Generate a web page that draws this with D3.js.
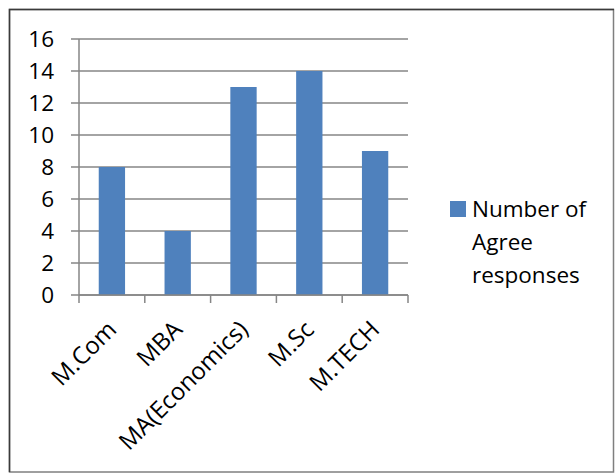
<!DOCTYPE html>
<html>
<head>
<meta charset="utf-8">
<script src="https://cdn.jsdelivr.net/npm/d3@7"></script>
<style>
  html, body { margin: 0; padding: 0; background: #fff; }
  svg { display: block; }
  text { font-family: "Open Sans", sans-serif; fill: #000; }
</style>
</head>
<body>
<svg id="chart" width="615" height="475"></svg>
<script>
// Agree responses by course
const categories = ["M.Com", "MBA", "MA(Economics)", "M.Sc", "M.TECH"];
const agreeCounts = [8, 4, 13, 14, 9];
const yTicks = [0, 2, 4, 6, 8, 10, 12, 14, 16];
const legendLines = ["Number of", "Agree", "responses"];

const svg = d3.select("#chart");
const barColor = "#4F81BD";
const gridColor = "#868686";
const fontSize = "22.5px";

// chart frame
svg.append("rect")
  .attr("x", 9.5).attr("y", 9.5)
  .attr("width", 604).attr("height", 462.5)
  .attr("fill", "#fff")
  .attr("stroke", "#7f7f7f").attr("stroke-width", 1.5);
svg.append("path")
  .attr("d", "M9.5,472 V9.5 H614")
  .attr("fill", "none").attr("stroke", "#3a3a3a").attr("stroke-width", 1.5);

const plot = { left: 79, right: 408, top: 39, bottom: 295 };

const x = d3.scaleBand().domain(categories).range([plot.left, plot.right]);
const y = d3.scaleLinear().domain([0, 16]).range([plot.bottom, plot.top]);

const g = svg.append("g");

// horizontal gridlines (extend left as tick marks)
g.append("g")
  .selectAll("line")
  .data(yTicks)
  .join("line")
  .attr("x1", plot.left - 8).attr("x2", plot.right)
  .attr("y1", d => y(d)).attr("y2", d => y(d))
  .attr("stroke", gridColor).attr("stroke-width", 1.5);

// y tick labels
g.append("g")
  .selectAll("text")
  .data(yTicks)
  .join("text")
  .attr("x", 54).attr("y", d => y(d))
  .attr("dy", "0.36em")
  .attr("text-anchor", "end")
  .style("font-size", fontSize)
  .text(d => d);

// bars
const barW = x.bandwidth() * 0.4;
g.append("g")
  .selectAll("rect")
  .data(categories.map((c, i) => ({ c, v: agreeCounts[i] })))
  .join("rect")
  .attr("x", d => x(d.c) + x.bandwidth() / 2 - barW / 2)
  .attr("width", barW)
  .attr("y", d => y(d.v))
  .attr("height", d => y(0) - y(d.v))
  .attr("fill", barColor);

// y axis line
g.append("line")
  .attr("x1", plot.left).attr("x2", plot.left)
  .attr("y1", plot.top).attr("y2", plot.bottom)
  .attr("stroke", gridColor).attr("stroke-width", 1.5);

// x axis line and category boundary ticks
g.append("line")
  .attr("x1", plot.left).attr("x2", plot.right)
  .attr("y1", plot.bottom).attr("y2", plot.bottom)
  .attr("stroke", gridColor).attr("stroke-width", 1.5);
const bounds = categories.map(c => x(c)).concat([plot.right]);
g.append("g")
  .selectAll("line")
  .data(bounds)
  .join("line")
  .attr("x1", d => d).attr("x2", d => d)
  .attr("y1", plot.bottom).attr("y2", plot.bottom + 8)
  .attr("stroke", gridColor).attr("stroke-width", 1.5);

// rotated category labels
g.append("g")
  .selectAll("text")
  .data(categories)
  .join("text")
  .attr("transform", d => `translate(${x(d) + x.bandwidth() / 2 + 6},${plot.bottom + 36}) rotate(-45)`)
  .attr("text-anchor", "end")
  .style("font-size", "24px")
  .text(d => d);

// legend
const legend = svg.append("g").attr("transform", "translate(450,201)");
legend.append("rect")
  .attr("width", 16).attr("height", 16)
  .attr("fill", barColor);
legend.append("g")
  .selectAll("text")
  .data(legendLines)
  .join("text")
  .attr("x", 22)
  .attr("y", (d, i) => 16 + i * 33)
  .style("font-size", fontSize)
  .text(d => d);
</script>
</body>
</html>
